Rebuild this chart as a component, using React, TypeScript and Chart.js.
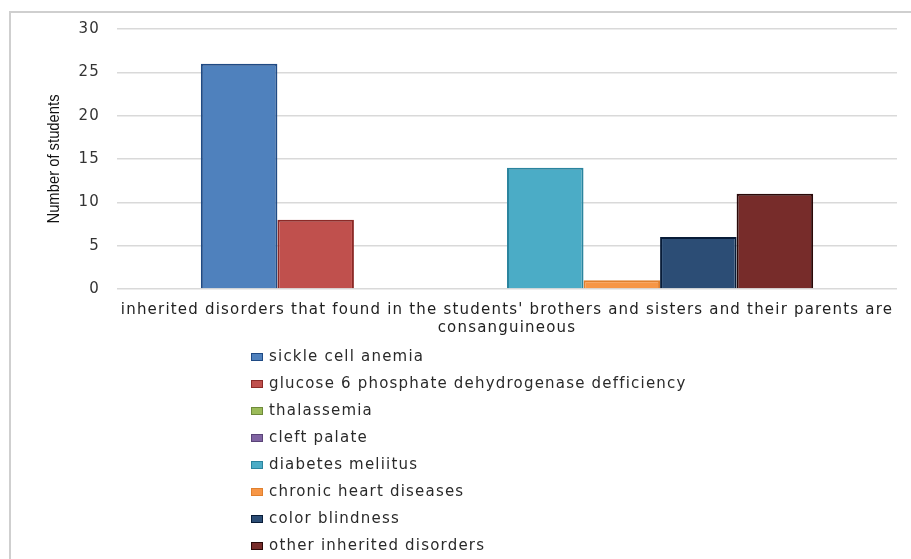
import React, { useEffect, useRef } from "react";
import { Chart, registerables } from "chart.js";

Chart.register(...registerables);

const categoryLabel: string[] = [
  "inherited disorders that found in the students' brothers and sisters and their parents are",
  "consanguineous",
];
const seriesNames: string[] = [
  "sickle cell anemia",
  "glucose 6 phosphate dehydrogenase defficiency",
  "thalassemia",
  "cleft palate",
  "diabetes meliitus",
  "chronic heart diseases",
  "color blindness",
  "other inherited disorders",
];
const seriesValues: number[] = [26, 8, 0, 0, 14, 1, 6, 11];
const fillColors: string[] = [
  "#4F81BD",
  "#C0504D",
  "#9BBB59",
  "#8064A2",
  "#4BACC6",
  "#F79646",
  "#2C4D75",
  "#772C2A",
];
const edgeColors: string[] = [
  "#1F4A84",
  "#8C2A27",
  "#6E8A3A",
  "#5A4478",
  "#2A849E",
  "#E0802E",
  "#081C38",
  "#2A0808",
];
const yTicks: number[] = [0, 5, 10, 15, 20, 25, 30];
const yTitle = "Number of students";

const FONT = "'DejaVu Sans', sans-serif";
const SPACING = "1.2px";

const frameAndLegend = {
  id: "frameAndLegend",
  beforeDraw(chart: any) {
    const ctx = chart.ctx;
    ctx.save();
    ctx.fillStyle = "#ffffff";
    ctx.fillRect(0, 0, chart.width, chart.height);
    ctx.strokeStyle = "#cfcfcf";
    ctx.lineWidth = 2;
    ctx.strokeRect(10, 12, 920, 600);
    ctx.restore();
    // wide lettering for all library-drawn text
    ctx.letterSpacing = SPACING;
  },
  afterDraw(chart: any) {
    const ctx = chart.ctx;
    ctx.save();
    // y-axis title (narrow lettering)
    ctx.letterSpacing = "0px";
    ctx.translate(54, 159);
    ctx.rotate(-Math.PI / 2);
    ctx.scale(0.87, 1);
    ctx.font = `17px 'Liberation Sans', sans-serif`;
    ctx.fillStyle = "#111111";
    ctx.textAlign = "center";
    ctx.textBaseline = "middle";
    ctx.fillText(yTitle, 0, 0);
    ctx.restore();

    ctx.save();
    ctx.letterSpacing = SPACING;
    const x0 = 251;
    const y0 = 357;
    const step = 27;
    ctx.font = `15px ${FONT}`;
    ctx.textBaseline = "middle";
    ctx.textAlign = "left";
    chart.data.datasets.forEach((ds: any, i: number) => {
      const cy = y0 + i * step;
      ctx.fillStyle = ds.backgroundColor;
      ctx.fillRect(x0, cy - 4, 12, 8);
      ctx.strokeStyle = ds.borderColor;
      ctx.lineWidth = 1;
      ctx.strokeRect(x0 + 0.5, cy - 3.5, 11, 7);
      ctx.fillStyle = "#2a2a2a";
      ctx.fillText(ds.label, x0 + 18, cy);
    });
    ctx.restore();
  },
};

export default function App() {
  const ref = useRef<HTMLCanvasElement | null>(null);

  useEffect(() => {
    if (!ref.current) return;
    const chart = new Chart(ref.current, {
      type: "bar",
      data: {
        labels: [categoryLabel],
        datasets: seriesNames.map((name, i) => ({
          label: name,
          data: [seriesValues[i]],
          backgroundColor: fillColors[i],
          borderColor: edgeColors[i],
          borderWidth: seriesValues[i] === 0 ? 0 : 2,
          borderSkipped: "bottom" as const,
          categoryPercentage: 0.785,
          barPercentage: 1,
        })),
      },
      options: {
        responsive: false,
        animation: false,
        layout: { padding: { top: 29, right: 14, bottom: 210, left: 0 } },
        plugins: {
          legend: { display: false },
          tooltip: { enabled: false },
        },
        scales: {
          x: {
            grid: { display: false },
            border: { display: false },
            ticks: {
              color: "#222222",
              font: { family: FONT, size: 15 },
              padding: 4,
              maxRotation: 0,
              autoSkip: false,
            },
            afterFit: (s: any) => {
              s.height = 60;
            },
          },
          y: {
            min: 0,
            max: 30,
            afterBuildTicks: (s: any) => {
              s.ticks = yTicks.map((v) => ({ value: v }));
            },
            grid: { color: "#d9d9d9", lineWidth: 1.5, drawTicks: false },
            border: { display: false },
            ticks: {
              color: "#333333",
              font: { family: FONT, size: 15 },
              padding: 17,
            },
            afterFit: (s: any) => {
              s.width = 117;
            },
          },
        },
      },
      plugins: [frameAndLegend],
    });
    return () => chart.destroy();
  }, []);

  return (
    <div style={{ position: "fixed", left: 0, top: 0, width: 911, height: 559 }}>
      <canvas ref={ref} width={911} height={559} style={{ display: "block" }} />
    </div>
  );
}
